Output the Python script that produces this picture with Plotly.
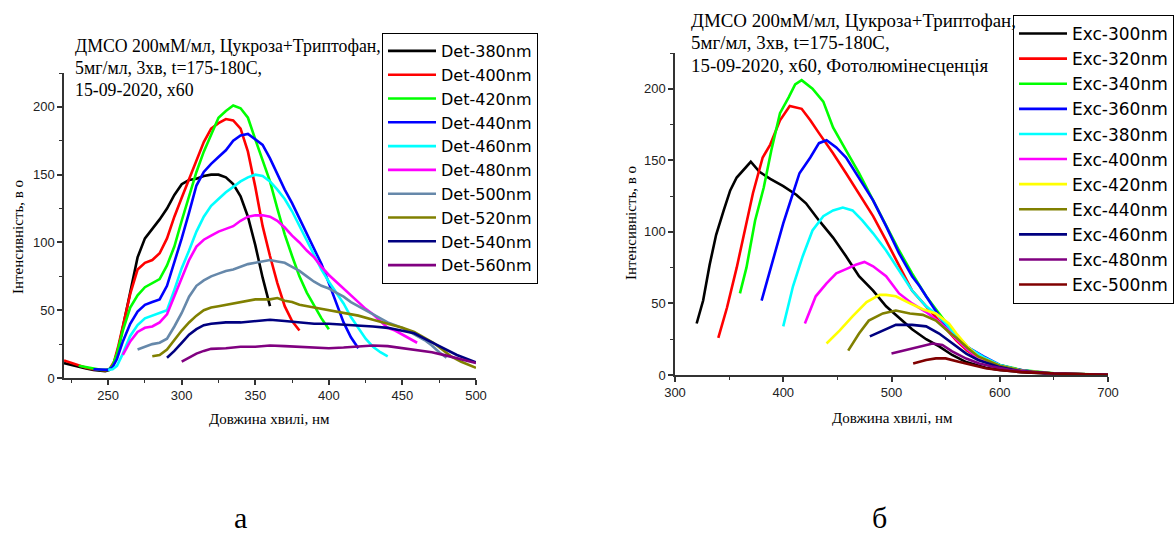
import plotly.graph_objects as go

W, H = 1175, 536

# ---------------- Left chart (a): detection series ----------------
det_names = ["Det-380nm", "Det-400nm", "Det-420nm", "Det-440nm", "Det-460nm",
             "Det-480nm", "Det-500nm", "Det-520nm", "Det-540nm", "Det-560nm"]
det_colors = ["#000000", "#FF0000", "#00FF00", "#0000FF", "#00FFFF",
              "#FF00FF", "#6688AA", "#808000", "#000080", "#800080"]

det380_x = [220, 225, 230, 235, 240, 245, 248, 251, 254, 257, 260, 265, 270, 275, 280, 285, 290, 295,
            300, 305, 310, 315, 320, 325, 330, 335, 340, 345, 350, 355, 360]
det380_y = [11, 9.5, 8, 7, 6, 5.5, 5, 6, 11, 22, 38, 65, 89, 103, 110, 117, 125, 135,
            143, 146, 147, 149, 150, 150, 148, 143, 134, 119, 98, 74, 53]

det400_x = [220, 225, 230, 235, 240, 245, 248, 251, 254, 257, 260, 265, 270, 275, 280, 285, 290, 295,
            300, 305, 310, 315, 320, 325, 330, 335, 340, 345, 350, 355, 360, 365, 370, 375, 380]
det400_y = [13, 11, 9, 7.5, 6.5, 6, 5.5, 6.5, 12, 24, 38, 62, 80, 85, 87, 92, 103, 119,
            133, 147, 161, 174, 184, 188, 191, 190, 184, 167, 141, 112, 90, 70, 53, 42, 35]

det420_x = [230, 235, 240, 245, 250, 253, 256, 260, 265, 270, 275, 280, 285, 290, 295, 300, 305, 310,
            315, 320, 325, 330, 335, 340, 345, 350, 355, 360, 365, 370, 375, 380, 385, 390, 395, 400]
det420_y = [9, 8, 6.5, 6, 6, 9, 18, 35, 52, 61, 67, 70, 73, 83, 97, 116, 134, 152,
            167, 180, 192, 197, 201, 199, 192, 176, 160, 145, 125, 106, 90, 75, 63, 53, 44, 36]

det440_x = [240, 245, 250, 253, 256, 260, 265, 270, 275, 280, 285, 290, 295, 300, 305, 310, 315, 320,
            325, 330, 335, 340, 345, 350, 355, 360, 365, 370, 375, 380, 385, 390, 395, 400, 405, 410,
            415, 420]
det440_y = [6.5, 6, 6, 8, 14, 27, 40, 49, 54, 56, 58, 68, 85, 103, 122, 142, 152, 158,
            163, 168, 175, 179, 180, 176, 172, 162, 150, 139, 129, 118, 107, 96, 84, 70, 55, 41,
            30, 22]

det460_x = [250, 253, 256, 260, 265, 270, 275, 280, 285, 290, 295, 300, 305, 310, 315, 320, 325, 330,
            335, 340, 345, 350, 355, 360, 365, 370, 375, 380, 385, 390, 395, 400, 405, 410, 415, 420,
            425, 430, 435, 440]
det460_y = [6, 6.5, 9, 18, 31, 39, 44, 46, 48, 50, 65, 81, 94, 108, 119, 127, 132, 137,
            141, 145, 148, 150, 149, 145, 139, 132, 123, 112, 101, 90, 80, 71, 63, 55, 45, 37,
            29, 23, 19, 16]

det480_x = [260, 265, 270, 275, 280, 285, 290, 295, 300, 305, 310, 315, 320, 325, 330, 335, 340, 345,
            350, 355, 360, 365, 370, 375, 380, 385, 390, 395, 400, 405, 410, 415, 420, 425, 430, 435,
            440, 445, 450, 455, 460]
det480_y = [17, 27, 34, 37, 38, 41, 47, 60, 74, 87, 97, 102, 105, 108, 110, 112, 116, 119,
            120, 120, 119, 116, 111, 105, 100, 94, 89, 82, 76, 71, 66, 61, 56, 51, 47, 42,
            37, 35, 32, 29, 26]

det500_x = [270, 275, 280, 285, 290, 295, 300, 305, 310, 315, 320, 325, 330, 335, 340, 345, 350, 355,
            360, 365, 370, 375, 380, 385, 390, 395, 400, 405, 410, 415, 420, 425, 430, 435, 440, 445,
            450, 455, 460, 465, 470, 475, 480]
det500_y = [21, 23, 25, 26, 29, 38, 48, 60, 68, 72, 75, 77, 79, 80, 82, 84, 85, 86,
            87, 86, 85, 82, 79, 75, 71, 68, 66, 63, 60, 56, 53, 50, 47, 44, 41, 39,
            37, 34, 31, 28, 24, 19, 15]

det520_x = [280, 285, 290, 295, 300, 305, 310, 315, 320, 325, 330, 335, 340, 345, 350, 355, 360, 365,
            370, 375, 380, 390, 400, 410, 420, 430, 440, 450, 458, 465, 471, 477, 483, 490, 500]
det520_y = [16, 17, 21, 28, 35, 41, 46, 50, 52, 53, 54, 55, 56, 57, 58, 58, 58, 59,
            57, 56, 54, 52, 50, 48, 46, 43, 40, 37, 34, 30, 26, 21, 16, 12, 7.5]

det540_x = [290, 295, 300, 305, 310, 315, 320, 330, 340, 350, 360, 370, 380, 390, 400, 410, 420, 430,
            440, 450, 458, 467, 476, 487, 500]
det540_y = [15, 20, 26, 32, 36, 39, 40, 41, 41, 42, 43, 42, 41, 40, 40, 39.5, 39, 38,
            37, 35, 33, 28, 23, 17, 11.5]

det560_x = [300, 305, 310, 315, 320, 330, 340, 350, 360, 370, 380, 390, 400, 410, 420, 430, 440, 450,
            460, 470, 480, 490, 500]
det560_y = [12, 15, 18, 20, 21.5, 22, 23, 23, 24, 23.5, 23, 22.5, 22, 22.5, 23, 24, 23.5, 22,
            21, 19, 16.5, 14, 11]

det_x = [det380_x, det400_x, det420_x, det440_x, det460_x, det480_x, det500_x, det520_x, det540_x, det560_x]
det_y = [det380_y, det400_y, det420_y, det440_y, det460_y, det480_y, det500_y, det520_y, det540_y, det560_y]

# ---------------- Right chart (б): excitation series ----------------
exc_names = ["Exc-300nm", "Exc-320nm", "Exc-340nm", "Exc-360nm", "Exc-380nm", "Exc-400nm",
             "Exc-420nm", "Exc-440nm", "Exc-460nm", "Exc-480nm", "Exc-500nm"]
exc_colors = ["#000000", "#FF0000", "#00FF00", "#0000FF", "#00FFFF", "#FF00FF",
              "#FFFF00", "#808000", "#000080", "#800080", "#800000"]

exc300_x = [320, 326, 332, 338, 345, 351, 357, 363, 370, 378, 388, 400, 412, 421, 433, 446, 458, 470,
            483, 495, 507, 519, 532, 544, 556, 569, 587, 600, 620, 650, 700]
exc300_y = [36, 52, 77, 98, 115, 129, 138, 143, 149, 142, 137, 132, 126, 120, 108, 96, 83, 69,
            59, 48, 40, 32, 25, 20, 14, 9, 5, 3.5, 2, 0.8, 0.2]

exc320_x = [340, 348, 357, 363, 372, 381, 388, 397, 406, 417, 425, 433, 446, 458, 470, 483, 495, 507,
            519, 532, 544, 550, 560, 570, 580, 600, 620, 650, 700]
exc320_y = [26, 47, 75, 96, 127, 152, 161, 178, 188, 186, 178, 169, 155, 141, 127, 111, 94, 76,
            59, 48, 38, 33, 24, 17, 12, 6, 3, 1, 0.2]

exc340_x = [360, 366, 374, 382, 389, 397, 405, 411, 417, 427, 437, 446, 458, 470, 483, 495, 507, 519,
            532, 544, 550, 560, 570, 580, 600, 620, 650, 700]
exc340_y = [57, 75, 108, 131, 157, 183, 194, 203, 206, 200, 191, 173, 157, 141, 122, 104, 87, 71,
            55, 43, 37, 28, 20, 13.5, 7, 3.5, 1.2, 0.2]

exc360_x = [380, 391, 400, 406, 415, 425, 433, 440, 449, 458, 470, 483, 495, 507, 519, 526, 538, 547,
            557, 569, 585, 600, 615, 637, 661, 700]
exc360_y = [52, 82, 106, 120, 141, 152, 162, 164, 159, 152, 138, 122, 104, 85, 69, 62, 48, 38,
            29, 20, 13, 7, 4, 1.6, 0.7, 0]

exc380_x = [400, 409, 418, 427, 437, 446, 455, 464, 473, 483, 495, 507, 519, 532, 544, 550, 560, 570,
            585, 600, 620, 650, 700]
exc380_y = [34, 62, 83, 101, 111, 115, 117, 115, 108, 99, 87, 73, 59, 48, 41, 36, 27, 19.5,
            12.5, 7, 3, 1, 0.1]

exc400_x = [420, 430, 440, 449, 458, 467, 475, 483, 495, 507, 519, 532, 544, 550, 560, 570, 580, 600,
            620, 650, 700]
exc400_y = [36, 55, 64, 71, 74, 77, 79, 76, 69, 57, 50, 44, 37, 33, 25, 18, 12, 6,
            3, 1, 0.2]

exc420_x = [440, 452, 464, 477, 489, 495, 504, 517, 529, 541, 553, 560, 570, 580, 600, 620, 650, 700]
exc420_y = [22, 31, 41, 51, 56, 56, 55, 50, 46, 43, 36, 29, 20, 13, 6.5, 3, 1, 0.2]

exc440_x = [460, 470, 479, 492, 504, 517, 529, 541, 553, 560, 570, 580, 600, 620, 650, 700]
exc440_y = [17, 29, 38, 43, 45, 43, 42, 38, 30, 26, 19, 13, 6.5, 3, 1, 0.2]

exc460_x = [480, 492, 504, 519, 532, 544, 556, 569, 580, 600, 620, 650, 700]
exc460_y = [27, 31, 35, 35, 34, 29, 22, 15, 10.5, 5.5, 2.5, 1, 0.2]

exc480_x = [500, 513, 526, 538, 547, 556, 569, 581, 593, 610, 630, 650, 700]
exc480_y = [15, 17.5, 20, 22, 21, 16.5, 11.5, 8, 6, 3.5, 2, 1, 0.2]

exc500_x = [520, 532, 541, 550, 562, 575, 587, 599, 620, 650, 700]
exc500_y = [8, 10.5, 11.6, 11.6, 9.3, 7, 4.7, 3.5, 2, 1, 0.2]

exc_x = [exc300_x, exc320_x, exc340_x, exc360_x, exc380_x, exc400_x, exc420_x, exc440_x, exc460_x,
         exc480_x, exc500_x]
exc_y = [exc300_y, exc320_y, exc340_y, exc360_y, exc380_y, exc400_y, exc420_y, exc440_y, exc460_y,
         exc480_y, exc500_y]

left_ticks = [250, 300, 350, 400, 450, 500]
right_ticks = [300, 400, 500, 600, 700]
y_ticks = [0, 50, 100, 150, 200]

title_lines_a = ["ДМСО 200мМ/мл, Цукроза+Триптофан,", "5мг/мл, 3хв, t=175-180С,", "15-09-2020, х60"]
title_lines_b = ["ДМСО 200мМ/мл, Цукроза+Триптофан,", "5мг/мл, 3хв, t=175-180С,",
                 "15-09-2020, х60, Фотолюмінесценція"]
y_title = "Інтенсивність, в о"
x_title = "Довжина хвилі, нм"

# ---------------- Figure ----------------
fig = go.Figure()
for nm, c, xs, ys in zip(det_names, det_colors, det_x, det_y):
    fig.add_trace(go.Scatter(x=xs, y=ys, mode="lines", name=nm, line=dict(color=c, width=2.6),
                             xaxis="x", yaxis="y", legend="legend"))
for nm, c, xs, ys in zip(exc_names, exc_colors, exc_x, exc_y):
    fig.add_trace(go.Scatter(x=xs, y=ys, mode="lines", name=nm, line=dict(color=c, width=2.6),
                             xaxis="x2", yaxis="y2", legend="legend2"))


def px(x):
    return x / W


def py(y):
    return 1 - y / H


axis_common = dict(showline=True, linecolor="#333333", linewidth=1.5, ticks="outside", ticklen=5,
                   tickwidth=1.5, tickcolor="#333333", showgrid=False, zeroline=False,
                   tickfont=dict(family="Liberation Sans, Arial", size=13, color="#222222"))


def minor(d):
    return dict(ticks="outside", ticklen=3, tickwidth=1.2, tickcolor="#333333", dtick=d)


fig.update_layout(
    width=W, height=H, margin=dict(l=0, r=0, t=0, b=0, autoexpand=False),
    paper_bgcolor="white", plot_bgcolor="white", showlegend=True,
    xaxis=dict(domain=[px(64), px(476)], range=[220, 500], anchor="y", tickvals=left_ticks,
               minor=minor(25), **axis_common),
    yaxis=dict(domain=[py(378), py(73)], range=[0, 225], anchor="x", tickvals=y_ticks,
               minor=minor(25), **axis_common),
    xaxis2=dict(domain=[px(675), px(1108)], range=[300, 700], anchor="y2", tickvals=right_ticks,
                minor=minor(50), **axis_common),
    yaxis2=dict(domain=[py(375), py(53)], range=[0, 225], anchor="x2", tickvals=y_ticks,
                minor=minor(25), **axis_common),
    legend=dict(x=px(382), y=py(33), xanchor="left", yanchor="top", bgcolor="white",
                bordercolor="#000000", borderwidth=1, itemwidth=48,
                font=dict(family="DejaVu Sans", size=16, color="#000000")),
    legend2=dict(x=px(1013), y=py(15), xanchor="left", yanchor="top", bgcolor="white",
                 bordercolor="#000000", borderwidth=1, itemwidth=48,
                 font=dict(family="DejaVu Sans", size=17, color="#000000")),
)

serif = "Liberation Serif, Times New Roman, serif"
ann = []
for i, t in enumerate(title_lines_a):
    ann.append(dict(x=px(73), y=py([46, 68, 90][i]), text=t, showarrow=False, xanchor="left",
                    yanchor="middle", xref="paper", yref="paper",
                    font=dict(family=serif, size=17.8, color="#000000")))
for i, t in enumerate(title_lines_b):
    ann.append(dict(x=px(689), y=py([20, 43, 65][i]), text=t, showarrow=False, xanchor="left",
                    yanchor="middle", xref="paper", yref="paper",
                    font=dict(family=serif, size=18.9, color="#000000")))


def centered(x, y, text, size, angle=0, yanchor="middle"):
    return dict(x=px(x), y=py(y), text=text, textangle=angle, showarrow=False,
                xanchor="center", yanchor=yanchor, xref="paper", yref="paper",
                font=dict(family=serif, size=size, color="#000000"))


ann += [
    centered(18, 237, y_title, 15, -90),
    centered(269, 419, x_title, 15),
    centered(631, 223, y_title, 15, -90),
    centered(892, 418, x_title, 15),
    centered(240, 536, "а", 30, yanchor="bottom"),
    centered(879, 536, "б", 30, yanchor="bottom"),
]
fig.update_layout(annotations=ann)

fig.write_html("out.html")
